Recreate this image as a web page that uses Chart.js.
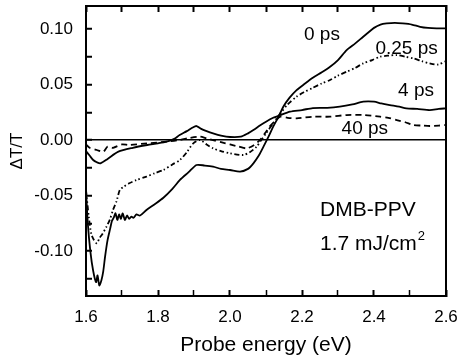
<!DOCTYPE html>
<html>
<head>
<meta charset="utf-8">
<script src="https://cdn.jsdelivr.net/npm/chart.js@4/dist/chart.umd.min.js"></script>
<style>
  html, body { margin: 0; padding: 0; background: #fff; }
  canvas { display: block; }
</style>
</head>
<body>
<canvas id="spectra" width="459" height="362"></canvas>
<script>
// 0 ps (solid)
const e0 = [1.600,1.605,1.612,1.620,1.628,1.632,1.637,1.643,1.648,1.653,1.660,1.667,1.672,1.677,1.682,1.687,1.692,1.697,1.702,1.708,1.714,1.720,1.726,1.732,1.740,1.750,1.768,1.790,1.815,1.840,1.861,1.885,1.907,1.930,1.953,1.975,2.000,2.028,2.050,2.065,2.080,2.093,2.107,2.120,2.135,2.148,2.165,2.185,2.205,2.230,2.255,2.278,2.300,2.324,2.348,2.370,2.385,2.400,2.418,2.435,2.458,2.480,2.505,2.528,2.550,2.574,2.600];
const d0 = [-0.045,-0.075,-0.100,-0.118,-0.128,-0.122,-0.131,-0.126,-0.118,-0.105,-0.090,-0.080,-0.073,-0.070,-0.066,-0.072,-0.067,-0.071,-0.066,-0.072,-0.068,-0.071,-0.069,-0.070,-0.067,-0.068,-0.063,-0.058,-0.052,-0.044,-0.036,-0.029,-0.0225,-0.023,-0.024,-0.026,-0.027,-0.0285,-0.026,-0.021,-0.014,-0.006,0.003,0.012,0.021,0.030,0.038,0.045,0.050,0.056,0.061,0.066,0.072,0.081,0.087,0.093,0.097,0.101,0.104,0.105,0.1055,0.105,0.104,0.102,0.101,0.1006,0.1006];

// 0.25 ps (dash-dot-dot)
const e025 = [1.600,1.608,1.615,1.622,1.630,1.638,1.645,1.657,1.666,1.675,1.685,1.694,1.705,1.720,1.740,1.768,1.790,1.815,1.840,1.861,1.880,1.898,1.917,1.935,1.953,1.975,2.000,2.037,2.055,2.074,2.087,2.100,2.120,2.140,2.160,2.185,2.205,2.230,2.255,2.278,2.300,2.324,2.348,2.370,2.395,2.417,2.440,2.463,2.487,2.510,2.533,2.555,2.578,2.600];
const d025 = [-0.045,-0.070,-0.085,-0.090,-0.093,-0.088,-0.085,-0.078,-0.072,-0.063,-0.055,-0.045,-0.042,-0.039,-0.036,-0.033,-0.030,-0.027,-0.022,-0.018,-0.011,-0.003,0.000,-0.004,-0.0075,-0.010,-0.012,-0.0135,-0.011,-0.006,0.000,0.006,0.015,0.024,0.032,0.039,0.043,0.047,0.051,0.054,0.058,0.0615,0.065,0.069,0.072,0.075,0.076,0.0765,0.075,0.0735,0.071,0.069,0.068,0.071];

// 4 ps (solid)
const e4 = [1.600,1.610,1.620,1.630,1.640,1.660,1.690,1.730,1.770,1.800,1.824,1.845,1.860,1.880,1.895,1.907,1.920,1.935,1.953,1.975,2.000,2.030,2.050,2.065,2.083,2.100,2.120,2.140,2.167,2.200,2.230,2.270,2.305,2.340,2.370,2.400,2.420,2.444,2.470,2.490,2.520,2.555,2.580,2.600];
const d4 = [-0.010,-0.014,-0.018,-0.020,-0.021,-0.017,-0.0105,-0.007,-0.0045,-0.003,-0.0015,0.001,0.0045,0.008,0.011,0.0126,0.010,0.008,0.006,0.004,0.0027,0.003,0.006,0.009,0.013,0.0165,0.020,0.0225,0.0255,0.027,0.0288,0.029,0.030,0.032,0.0345,0.0345,0.033,0.0315,0.030,0.0285,0.028,0.027,0.028,0.0285];

// 40 ps (dashed)
const e40 = [1.600,1.610,1.630,1.648,1.660,1.675,1.700,1.720,1.770,1.824,1.860,1.890,1.917,1.935,1.953,1.975,2.000,2.025,2.046,2.065,2.083,2.097,2.110,2.125,2.140,2.160,2.185,2.230,2.278,2.324,2.370,2.417,2.440,2.463,2.487,2.510,2.533,2.555,2.580,2.600];
const d40 = [-0.004,-0.007,-0.009,-0.0105,-0.006,-0.007,-0.004,-0.0045,-0.003,-0.0015,0.000,0.002,0.003,0.0015,0.000,-0.002,-0.004,-0.006,-0.0075,-0.005,0.000,0.006,0.012,0.017,0.021,0.020,0.0195,0.021,0.021,0.0225,0.0225,0.021,0.020,0.018,0.016,0.0135,0.013,0.0126,0.013,0.0135];

// curve labels: [text, energy, dT/T]
const curveLabels = [
  ["0 ps", 2.2056, 0.0946],
  ["0.25 ps", 2.404, 0.082],
  ["4 ps", 2.467, 0.0441],
  ["40 ps", 2.310, 0.0099],
];

const xRange = [1.6, 2.6];
const yRange = [-0.1405, 0.1207];

const FONT = "Arial, 'Liberation Sans', sans-serif";

function pts(xs, ys) {
  return xs.map((x, i) => ({ x: x, y: ys[i] }));
}

function noPad(s) {
  s.paddingTop = 0;
  s.paddingBottom = 0;
  s.paddingLeft = 0;
  s.paddingRight = 0;
}

const frame = { display: true, color: "#000", width: 2 };

// curve names and sample text
const textLabels = {
  id: "textLabels",
  afterDraw(chart) {
    const c = chart.ctx;
    const sx = chart.scales.x, sy = chart.scales.y;
    c.save();
    c.fillStyle = "#000";
    c.textBaseline = "middle";
    c.textAlign = "left";
    c.font = "19px " + FONT;
    curveLabels.forEach(l => {
      c.fillText(l[0], sx.getPixelForValue(l[1]), sy.getPixelForValue(l[2]));
    });
    c.font = "21px " + FONT;
    const lx = sx.getPixelForValue(2.25);
    c.fillText("DMB-PPV", lx, sy.getPixelForValue(-0.063));
    const y2 = sy.getPixelForValue(-0.094);
    c.fillText("1.7 mJ/cm", lx, y2);
    const w = c.measureText("1.7 mJ/cm").width;
    c.font = "13px " + FONT;
    c.fillText("2", lx + w + 1, y2 - 8);
    c.restore();
  }
};

new Chart(document.getElementById("spectra"), {
  type: "line",
  data: {
    datasets: [
      { label: "0 ps", data: pts(e0, d0), borderColor: "#000", borderWidth: 1.8 },
      { label: "0.25 ps", data: pts(e025, d025), borderColor: "#000", borderWidth: 1.8, borderDash: [5, 2.5, 1.5, 2.5, 1.5, 2.5] },
      { label: "4 ps", data: pts(e4, d4), borderColor: "#000", borderWidth: 1.8 },
      { label: "40 ps", data: pts(e40, d40), borderColor: "#000", borderWidth: 1.8, borderDash: [6, 4] },
    ],
  },
  options: {
    responsive: false,
    animation: false,
    devicePixelRatio: 1,
    elements: {
      point: { radius: 0 },
      line: { tension: 0.25, fill: false },
    },
    layout: { padding: { top: 6, right: 13, left: 0, bottom: 0 } },
    plugins: {
      legend: { display: false },
      tooltip: { enabled: false },
    },
    scales: {
      x: {
        type: "linear",
        position: "bottom",
        min: xRange[0],
        max: xRange[1],
        afterFit: (s) => { s.height = 66; noPad(s); },
        border: frame,
        grid: {
          drawOnChartArea: false,
          drawTicks: true,
          tickLength: -6,
          tickColor: "#000",
          tickWidth: (ctx) => (Math.round(ctx.tick.value * 10) % 2 === 0 ? 2 : 1.5),
        },
        ticks: {
          stepSize: 0.1,
          includeBounds: false,
          autoSkip: false,
          maxRotation: 0,
          padding: 17,
          color: "#000",
          font: { size: 17, family: FONT },
          callback: (v) => (Math.round(v * 10) % 2 === 0 ? v.toFixed(1) : ""),
        },
        title: {
          display: true,
          text: "Probe energy (eV)",
          color: "#000",
          font: { size: 21, family: FONT },
          padding: { top: 0, bottom: 4 },
        },
      },
      xTop: {
        type: "linear",
        position: "top",
        min: xRange[0],
        max: xRange[1],
        afterFit: (s) => { s.height = 0; noPad(s); },
        border: frame,
        grid: {
          drawOnChartArea: false,
          drawTicks: true,
          tickLength: -6,
          tickColor: "#000",
          tickWidth: 2,
        },
        ticks: { stepSize: 0.1, includeBounds: false, autoSkip: false, display: false },
      },
      y: {
        type: "linear",
        position: "left",
        min: yRange[0],
        max: yRange[1],
        afterFit: (s) => { s.width = 86; noPad(s); },
        border: frame,
        grid: {
          drawTicks: true,
          tickLength: -6,
          tickColor: "#000",
          tickWidth: 2,
          lineWidth: 1.5,
          color: (ctx) => (ctx.tick && Math.abs(ctx.tick.value) < 1e-9 ? "#000" : "rgba(0,0,0,0)"),
        },
        ticks: {
          stepSize: 0.025,
          includeBounds: false,
          autoSkip: false,
          padding: 19,
          color: "#000",
          font: { size: 17, family: FONT },
          callback: (v) => {
            if (Math.abs(Math.round(v * 40)) % 2 !== 0) return "";
            return Math.abs(v) < 1e-9 ? "0.00" : v.toFixed(2);
          },
        },
        title: {
          display: true,
          text: "ΔT/T",
          color: "#000",
          font: { size: 17, family: FONT },
          padding: { top: 7, bottom: 0 },
        },
      },
      yRight: {
        type: "linear",
        position: "right",
        min: yRange[0],
        max: yRange[1],
        afterFit: (s) => { s.width = 0; noPad(s); },
        border: frame,
        grid: { display: false },
        ticks: { display: false },
      },
    },
  },
  plugins: [textLabels],
});
</script>
</body>
</html>
